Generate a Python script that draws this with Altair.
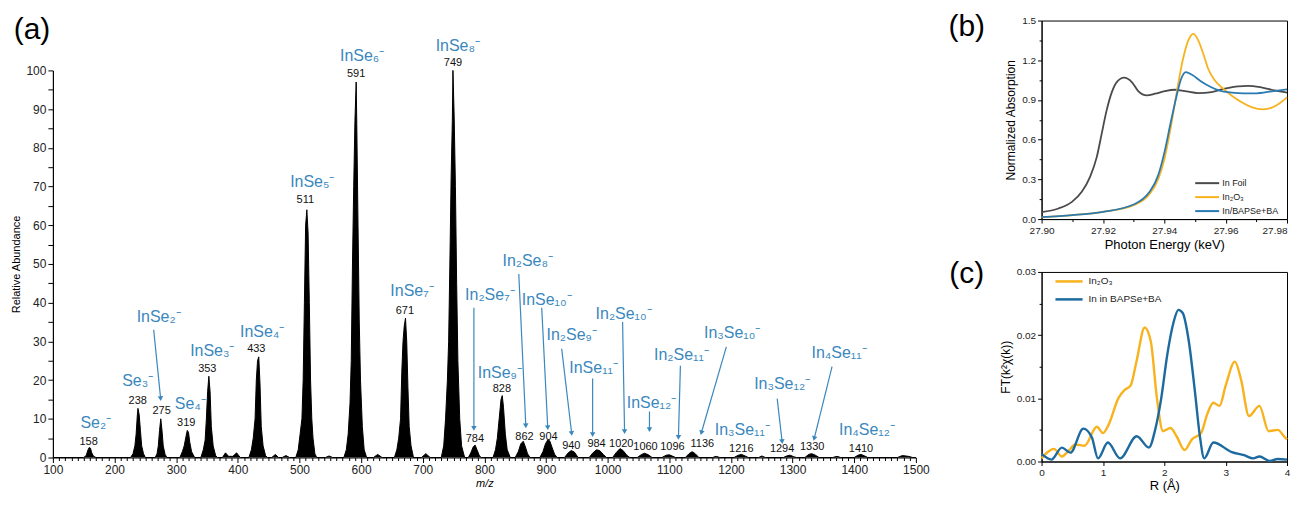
import math
import altair as alt
import pandas as pd

FONT = "Liberation Sans"
LBL_BLUE = "#3a87bd"

# ---------------- panel (a): mass spectrum ----------------
MZ = [100, 150, 154, 157, 159, 161, 163, 166, 170,
      226, 230, 233, 235, 237, 238, 240, 242, 244, 247, 250,
      266, 269, 271, 273, 275, 277, 279, 282, 285,
      306, 310, 313, 316, 318, 320, 322, 325, 330,
      340, 344, 347, 349, 351, 353, 355, 357, 360, 364, 367,
      375, 380, 385, 392, 398, 404,
      418, 422, 425, 428, 430, 432, 434, 436, 438, 441, 445, 448,
      455, 461, 466, 472, 478, 484,
      494, 498, 501, 504, 506, 508, 510, 512, 514, 516, 518, 520, 522, 525, 528,
      542, 548, 554,
      572, 576, 579, 582, 584, 586, 588, 590, 592, 593, 595, 597, 599, 602, 605, 609,
      620, 627, 634,
      654, 658, 661, 664, 666, 668, 670, 672, 674, 676, 678, 681, 685,
      698, 705, 712,
      730, 734, 737, 740, 742, 744, 746, 748, 749, 751, 753, 755, 757, 760, 763, 768,
      774, 778, 782, 785, 788, 792, 795,
      814, 818, 821, 824, 827, 829, 831, 834, 837, 842,
      850, 855, 859, 863, 866, 870, 874,
      890, 895, 899, 903, 906, 910, 914, 918,
      930, 936, 941, 946, 952,
      970, 976, 982, 987, 993, 998,
      1008, 1014, 1020, 1025, 1031, 1036,
      1048, 1055, 1060, 1066, 1072,
      1088, 1095, 1100, 1106, 1110,
      1126, 1132, 1137, 1142, 1148,
      1170, 1176, 1182,
      1205, 1212, 1217, 1223, 1228,
      1245, 1250, 1256,
      1285, 1292, 1296, 1302, 1306,
      1320, 1326, 1331, 1337, 1343,
      1365, 1372, 1378,
      1400, 1406, 1411, 1417, 1422,
      1470, 1478, 1488, 1495, 1500]
AB = [0, 0, 0.5, 2, 2.6, 2.4, 1.2, 0.3, 0,
      0, 1, 3, 6, 11, 12.7, 11, 7, 3, 1, 0,
      0, 1, 3, 7, 10, 7, 3, 0.8, 0,
      0, 1.5, 3, 5.5, 7, 6.5, 4, 1.5, 0,
      0, 2, 4.5, 10, 17, 21, 17, 8, 3, 0.5, 0,
      0, 1.2, 0.3, 0.3, 1.2, 0,
      0, 2, 5, 10, 20, 25, 26, 19, 8, 3, 0.5, 0,
      0, 0.8, 0, 0, 0.5, 0,
      0, 2, 6, 10, 20, 40, 60, 64, 58, 40, 20, 10, 5, 1, 0,
      0, 0.4, 0,
      0, 2, 6, 14, 25, 50, 70, 87, 97, 86, 60, 35, 20, 8, 2, 0,
      0, 0.8, 0,
      0, 2, 5, 10, 22, 30, 34, 36, 30, 18, 8, 3, 0,
      0, 1, 0,
      0, 3, 10, 20, 30, 50, 72, 87, 100, 88, 70, 45, 25, 10, 3, 0,
      0, 1.2, 2.8, 3.2, 2, 0.4, 0,
      0, 2, 5, 10, 15, 16, 13, 6, 2, 0,
      0, 1.5, 3.5, 4.2, 3, 1, 0,
      0, 1.5, 3.5, 4.6, 4.3, 2.5, 0.8, 0,
      0, 1.2, 1.8, 1.4, 0,
      0, 1.2, 2, 1.8, 0.8, 0,
      0, 1.3, 2.3, 1.8, 0.6, 0,
      0, 0.8, 1.1, 0.7, 0,
      0, 0.6, 0.7, 0.3, 0,
      0, 1, 1.5, 1, 0,
      0, 0.3, 0,
      0, 0.6, 0.8, 0.4, 0,
      0, 0.4, 0,
      0, 0.5, 0.6, 0.2, 0,
      0, 0.8, 1.0, 0.6, 0,
      0, 0.3, 0,
      0, 0.6, 0.8, 0.4, 0,
      0, 0.5, 0.3, 0, 0]

ION_TEXT = ["Se₂⁻", "Se₃⁻", "InSe₂⁻", "Se₄⁻", "InSe₃⁻", "InSe₄⁻", "InSe₅⁻", "InSe₆⁻",
            "InSe₇⁻", "InSe₈⁻", "In₂Se₇⁻", "InSe₉⁻", "In₂Se₈⁻", "InSe₁₀⁻", "In₂Se₉⁻",
            "InSe₁₁⁻", "In₂Se₁₀⁻", "InSe₁₂⁻", "In₂Se₁₁⁻", "In₃Se₁₀⁻", "In₃Se₁₁⁻",
            "In₃Se₁₂⁻", "In₄Se₁₁⁻", "In₄Se₁₂⁻"]
ION_MZ = [169.6, 237.6, 271.6, 323, 358.6, 439.5, 520.8, 601.7,
          682.6, 757, 808.9, 825, 870.4, 901, 941.6,
          977.2, 1025.8, 1071, 1119.6, 1202, 1218.4,
          1283, 1375.3, 1420.6]
ION_AB = [8.8, 19.8, 36.3, 13.7, 27.6, 32.5, 71.1, 103.6,
          43, 106.4, 42, 21.9, 50.8, 40.7, 31.7,
          23.2, 37.1, 14.2, 26.5, 32.2, 7.2,
          19, 27, 7.2]

NUM_TEXT = ["158", "238", "275", "319", "353", "433", "511", "591", "671", "749",
            "784", "828", "862", "904", "940", "984", "1020", "1060", "1096", "1136",
            "1216", "1294", "1330", "1410"]
NUM_MZ = [158, 237.6, 276.4, 316.3, 350.5, 430, 509.5, 592, 671, 749,
          784.6, 828.3, 865, 904, 941, 982, 1022, 1061.4, 1105, 1153.6,
          1216.8, 1283, 1331.7, 1411]
NUM_AB = [3.9, 14.7, 11.9, 8.8, 22.9, 28.1, 66.5, 99.2, 37.9, 102,
          4.9, 17.8, 5.4, 5.4, 3.1, 3.4, 3.6, 2.6, 2.6, 3.6,
          2.3, 2.1, 2.6, 2.1]

ARROW_X1 = [263.5, 783, 855.8, 893, 925.4, 975.6, 1024.2, 1067.8, 1118, 1192.5, 1275, 1364]
ARROW_Y1 = [33, 38.7, 47.4, 38.7, 28.1, 20.4, 35, 11.9, 23.7, 28.6, 15.2, 23.5]
ARROW_X2 = [274.8, 783, 867.2, 902.8, 941.6, 975.6, 1027.4, 1067.8, 1114.8, 1152, 1283, 1335]
ARROW_Y2 = [15.2, 7.5, 8.2, 7.7, 6.2, 5.9, 6.7, 7.2, 5.2, 6.4, 4.1, 4.9]

# ---------------- panel (b): XANES ----------------
FOIL_E = [27.900, 27.9055, 27.9099, 27.9131, 27.9158, 27.9180, 27.9196, 27.9212, 27.9229,
          27.9245, 27.9269, 27.9294, 27.9315, 27.9343, 27.9370, 27.9402, 27.9435, 27.9467,
          27.9511, 27.9554, 27.9597, 27.9641, 27.9673, 27.9716, 27.9760, 27.980]
FOIL_A = [0.053, 0.080, 0.130, 0.206, 0.319, 0.470, 0.646, 0.821, 0.959,
          1.035, 1.068, 1.035, 0.967, 0.934, 0.947, 0.967, 0.977, 0.967,
          0.952, 0.959, 0.985, 1.003, 1.007, 0.995, 0.972, 0.955]
OX_E = [27.900, 27.910, 27.920, 27.930, 27.935, 27.938, 27.940, 27.942, 27.944, 27.946,
        27.948, 27.9495, 27.9511, 27.9527, 27.9543, 27.9565, 27.9592, 27.9619, 27.9651,
        27.9684, 27.9722, 27.976, 27.980]
OX_A = [0.013, 0.030, 0.055, 0.105, 0.185, 0.30, 0.45, 0.68, 0.95, 1.20,
        1.36, 1.40, 1.349, 1.249, 1.136, 1.047, 0.985, 0.934, 0.884,
        0.846, 0.829, 0.852, 0.92]
BA_E = [27.900, 27.910, 27.920, 27.930, 27.935, 27.938, 27.940, 27.942, 27.944, 27.9455,
        27.947, 27.949, 27.952, 27.955, 27.958, 27.962, 27.966, 27.970, 27.975, 27.980]
BA_A = [0.015, 0.030, 0.055, 0.11, 0.20, 0.33, 0.50, 0.72, 0.93, 1.06,
        1.11, 1.09, 1.04, 1.00, 0.97, 0.955, 0.95, 0.95, 0.965, 0.98]
B_SERIES = ["In Foil", "In₂O₃", "In/BAPSe+BA"]
B_COLORS = ["#4a4a4a", "#f7b21e", "#2a7ab2"]

# ---------------- panel (c): EXAFS ----------------
OXR_R = [0.0, 0.1, 0.2, 0.33, 0.45, 0.55, 0.7, 0.9, 1.0, 1.1, 1.25, 1.35, 1.45, 1.55,
         1.68, 1.78, 1.88, 1.98, 2.1, 2.2, 2.33, 2.45, 2.6, 2.7, 2.8, 2.9, 3.0, 3.15,
         3.25, 3.38, 3.55, 3.7, 3.85, 3.95, 4.0]
OXR_F = [0.0005, 0.0015, 0.002, 0.0008, 0.0018, 0.0027, 0.0025, 0.0055, 0.0045, 0.006,
         0.010, 0.0113, 0.012, 0.016, 0.0212, 0.019, 0.010, 0.0048, 0.0053, 0.004,
         0.0018, 0.0035, 0.0045, 0.0075, 0.0093, 0.0088, 0.012, 0.0158, 0.013, 0.0072,
         0.0088, 0.0048, 0.005, 0.004, 0.0035]
BAR_R = [0.0, 0.16, 0.33, 0.47, 0.68, 0.82, 0.92, 1.08, 1.28, 1.55, 1.75, 1.85, 1.95,
         2.05, 2.15, 2.23, 2.3, 2.4, 2.5, 2.58, 2.65, 2.8, 3.1, 3.3, 3.45, 3.55, 3.72,
         3.85, 4.0]
BAR_F = [0.0012, 0.0003, 0.0022, 0.0014, 0.0052, 0.0038, 0.0005, 0.003, 0.0005, 0.004,
         0.0022, 0.005, 0.010, 0.017, 0.022, 0.024, 0.0235, 0.019, 0.011, 0.004,
         0.0005, 0.003, 0.0015, 0.001, 0.0005, 0.0008, 0.0001, 0.0004, 0.0003]
C_SERIES = ["In₂O₃", "In in BAPSe+BA"]
C_COLORS = ["#f7b21e", "#1c6aa0"]

# ---------------- sizes ----------------
WA, HA, A_TOP = 865, 438, 50      # plot area of (a) starts 50 px below the group top
WB, HB = 246, 199
WC, HC = 246, 190

spec = pd.DataFrame({"mz": MZ, "ab": AB})
ions = pd.DataFrame({"mz": ION_MZ, "ab": ION_AB, "t": ION_TEXT})
nums = pd.DataFrame({"mz": NUM_MZ, "ab": NUM_AB, "t": NUM_TEXT})
arr = pd.DataFrame({"x1": ARROW_X1, "y1": ARROW_Y1, "x2": ARROW_X2, "y2": ARROW_Y2})
arr["ang"] = [
    math.degrees(math.atan2((b - a) * WA / 1400.0, (d - c) * (HA - A_TOP) / 100.0)) % 360
    for a, b, c, d in zip(arr.x1, arr.x2, arr.y1, arr.y2)
]

xs_a = alt.Scale(domain=[100, 1500], nice=False, zero=False)
ys_a = alt.Scale(domain=[0, 100], nice=False, range=[HA, A_TOP])

ax_a_x = alt.Axis(
    values=list(range(100, 1501, 10)), tickCount=1000,
    labelExpr="datum.value % 100 == 0 ? datum.label : ''",
    tickSize={"condition": {"test": "datum.value % 100 == 0", "value": 5}, "value": 3},
    format="d", title="m/z", titleFontStyle="italic", titleFontSize=11,
    titleFontWeight="normal", labelFontSize=12, labelFlush=False, labelOverlap=False,
    grid=False, domainColor="black", tickColor="black", labelColor="#222",
    titlePadding=2, labelPadding=2, domainWidth=1.2,
)
ax_a_y = alt.Axis(
    values=list(range(0, 101, 5)), tickCount=1000,
    labelExpr="datum.value % 10 == 0 ? datum.label : ''",
    tickSize=5, format="d", title="Relative Abundance", titleFontSize=11,
    titleFontWeight="normal", labelFontSize=12, labelOverlap=False, grid=False,
    domainColor="black", tickColor="black", labelColor="#222", titlePadding=4,
    labelPadding=2, domainWidth=1.2,
)

base_a = alt.Chart(spec)
area_a = base_a.mark_area(color="black", interpolate="linear").encode(
    x=alt.X("mz:Q", scale=xs_a, axis=ax_a_x),
    y=alt.Y("ab:Q", scale=ys_a, axis=ax_a_y),
)
line_a = base_a.mark_line(color="black", strokeWidth=1).encode(
    x=alt.X("mz:Q", scale=xs_a), y=alt.Y("ab:Q", scale=ys_a)
)
ion_t = alt.Chart(ions).mark_text(font=FONT, fontSize=16, fontWeight="normal", color=LBL_BLUE,
                                  align="center", baseline="middle").encode(
    x=alt.X("mz:Q", scale=xs_a), y=alt.Y("ab:Q", scale=ys_a), text="t:N")
num_t = alt.Chart(nums).mark_text(font=FONT, fontSize=11, fontWeight="normal", color="#111",
                                  align="center", baseline="middle").encode(
    x=alt.X("mz:Q", scale=xs_a), y=alt.Y("ab:Q", scale=ys_a), text="t:N")
arr_r = alt.Chart(arr).mark_rule(color=LBL_BLUE, strokeWidth=1.2).encode(
    x=alt.X("x1:Q", scale=xs_a), y=alt.Y("y1:Q", scale=ys_a), x2="x2:Q", y2="y2:Q")
arr_h = alt.Chart(arr).mark_point(shape="triangle-up", filled=True, color=LBL_BLUE,
                                  size=30, opacity=1).encode(
    x=alt.X("x2:Q", scale=xs_a), y=alt.Y("y2:Q", scale=ys_a), angle=alt.Angle("ang:Q", scale=None))


def panel_label(txt, dx, dy):
    return alt.Chart(pd.DataFrame({"t": [txt]})).mark_text(
        font=FONT, fontSize=30, fontWeight="normal", color="black",
        align="center", baseline="middle").encode(
        text="t:N", x=alt.value(dx), y=alt.value(dy))


panel_a = alt.layer(area_a, line_a, arr_r, arr_h, ion_t, num_t,
                    panel_label("(a)", -21, 10)).properties(
    width=WA, height=HA, view=alt.ViewBackground(strokeWidth=0, strokeOpacity=0))

# ---------------- panel (b) ----------------
bdf = pd.concat([
    pd.DataFrame({"e": FOIL_E, "a": FOIL_A, "s": B_SERIES[0]}),
    pd.DataFrame({"e": OX_E, "a": OX_A, "s": B_SERIES[1]}),
    pd.DataFrame({"e": BA_E, "a": BA_A, "s": B_SERIES[2]}),
])
bx_vals = [round(27.90 + 0.01 * i, 2) for i in range(9)]
by_vals = [round(0.15 * i, 2) for i in range(11)]
line_b = alt.Chart(bdf).mark_line(strokeWidth=1.8, interpolate="monotone").encode(
    x=alt.X("e:Q", scale=alt.Scale(domain=[27.90, 27.98], nice=False, zero=False),
            axis=alt.Axis(values=bx_vals, tickCount=1000, format=".2f",
                          labelExpr="round(datum.value*100) % 2 == 0 ? datum.label : ''",
                          labelAlign={"condition": {"test": "datum.value > 27.975", "value": "right"}, "value": "center"},
                          tickSize={"condition": {"test": "round(datum.value*100) % 2 == 0", "value": 4}, "value": 2.5},
                          title="Photon Energy (keV)", titleFontSize=13, titleFontWeight="normal",
                          labelFontSize=10, labelFlush=False, labelOverlap=False, grid=False,
                          domainColor="black", tickColor="black", labelColor="#222",
                          titlePadding=3, labelPadding=2)),
    y=alt.Y("a:Q", scale=alt.Scale(domain=[0, 1.5], nice=False),
            axis=alt.Axis(values=by_vals, tickCount=1000, format=".1f",
                          labelExpr="round(datum.value/0.15) % 2 == 0 ? datum.label : ''",
                          tickSize={"condition": {"test": "round(datum.value/0.15) % 2 == 0", "value": 4}, "value": 2.5},
                          title="Normalized Absorption", titleFontSize=12, titleFontWeight="normal",
                          labelFontSize=10, labelOverlap=False, grid=False,
                          domainColor="black", tickColor="black", labelColor="#222",
                          titlePadding=4, labelPadding=2)),
    color=alt.Color("s:N", scale=alt.Scale(domain=B_SERIES, range=B_COLORS),
                    legend=alt.Legend(title=None, orient="none", legendX=161, legendY=158,
                                      symbolType="M-3,0L3,0", symbolSize=64, symbolStrokeWidth=2,
                                      labelFontSize=9, labelFont=FONT, labelOffset=10,
                                      rowPadding=4, padding=0, labelColor="#222")),
    order=alt.Order("e:Q"),
)
panel_b = alt.layer(line_b, panel_label("(b)", -75, 6)).properties(
    width=WB, height=HB, view=alt.ViewBackground(stroke="black", strokeWidth=1))

# ---------------- panel (c) ----------------
cdf = pd.concat([
    pd.DataFrame({"r": OXR_R, "f": OXR_F, "s": C_SERIES[0]}),
    pd.DataFrame({"r": BAR_R, "f": BAR_F, "s": C_SERIES[1]}),
])
cx_vals = [0.5 * i for i in range(9)]
cy_vals = [round(0.005 * i, 3) for i in range(7)]
line_c = alt.Chart(cdf).mark_line(strokeWidth=2.4, interpolate="monotone").encode(
    x=alt.X("r:Q", scale=alt.Scale(domain=[0, 4], nice=False),
            axis=alt.Axis(values=cx_vals, tickCount=1000, format="d",
                          labelExpr="datum.value % 1 == 0 ? datum.label : ''",
                          tickSize={"condition": {"test": "datum.value % 1 == 0", "value": 4}, "value": 2.5},
                          title="R (Å)", titleFontSize=13, titleFontWeight="normal",
                          labelFontSize=10, labelFlush=False, labelOverlap=False, grid=False,
                          domainColor="black", tickColor="black", labelColor="#222",
                          titlePadding=2, labelPadding=2)),
    y=alt.Y("f:Q", scale=alt.Scale(domain=[0, 0.03], nice=False),
            axis=alt.Axis(values=cy_vals, tickCount=1000, format=".2f",
                          labelExpr="round(datum.value*1000) % 10 == 0 ? datum.label : ''",
                          tickSize={"condition": {"test": "round(datum.value*1000) % 10 == 0", "value": 4}, "value": 2.5},
                          title="FT(k²χ(k))", titleFontSize=12, titleFontWeight="normal",
                          labelFontSize=10, labelOverlap=False, grid=False,
                          domainColor="black", tickColor="black", labelColor="#222",
                          titlePadding=4, labelPadding=2)),
    color=alt.Color("s:N", scale=alt.Scale(domain=C_SERIES, range=C_COLORS),
                    legend=alt.Legend(title=None, orient="none", legendX=22, legendY=4,
                                      symbolType="M-3.4,0L3.4,0", symbolSize=64, symbolStrokeWidth=2.5,
                                      labelFontSize=10, labelFont=FONT, labelOffset=14,
                                      rowPadding=7, padding=0, labelColor="#222")),
    order=alt.Order("r:Q"),
)
panel_c = alt.layer(line_c, panel_label("(c)", -75, 2)).properties(
    width=WC, height=HC, view=alt.ViewBackground(stroke="black", strokeWidth=1))

right = alt.vconcat(panel_b, panel_c, spacing=6).resolve_scale(color="independent")
chart = alt.hconcat(panel_a, right, spacing=18).resolve_scale(color="independent").properties(
    padding={"left": 2, "top": 2, "right": 0, "bottom": 0}
).configure_view(stroke="transparent").configure(font=FONT)

chart.save("out.html", embed_options={"renderer": "svg", "actions": False})
